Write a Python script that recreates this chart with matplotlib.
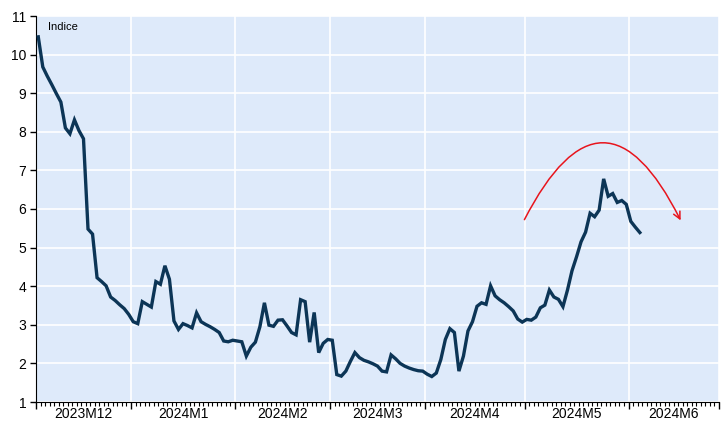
import numpy as np
import pandas as pd
import matplotlib
matplotlib.use('Agg')
import matplotlib.pyplot as plt
from matplotlib.patches import FancyArrowPatch

# daily index values (business days), one list per month
dec = [10.46, 9.68, 9.44, 9.22, 8.99, 8.77, 8.10, 7.95, 8.31, 8.03, 7.82,
       5.48, 5.35, 4.22, 4.12, 4.01, 3.72, 3.63, 3.52, 3.42, 3.27]
jan = [3.08, 3.03, 3.60, 3.53, 3.46, 4.12, 4.05, 4.53, 4.18, 3.10, 2.88,
       3.03, 2.98, 2.92, 3.31, 3.08, 3.01, 2.95, 2.88, 2.80, 2.58, 2.56, 2.60]
feb = [2.58, 2.56, 2.19, 2.42, 2.55, 2.95, 3.57, 2.99, 2.96, 3.12, 3.13,
       2.97, 2.80, 2.74, 3.65, 3.60, 2.55, 3.32, 2.28, 2.52, 2.62]
mar = [2.60, 1.71, 1.67, 1.80, 2.05, 2.28, 2.15, 2.08, 2.04, 1.99, 1.93,
       1.80, 1.78, 2.22, 2.12, 2.00, 1.93, 1.88, 1.84, 1.81, 1.80]
apr = [1.72, 1.66, 1.75, 2.10, 2.62, 2.90, 2.80, 1.80, 2.19, 2.84, 3.08,
       3.48, 3.57, 3.53, 4.01, 3.75, 3.65, 3.57, 3.47, 3.36, 3.15, 3.07]
may = [3.14, 3.12, 3.20, 3.44, 3.51, 3.90, 3.72, 3.66, 3.47, 3.90, 4.40,
       4.76, 5.15, 5.40, 5.89, 5.80, 5.97, 6.78, 6.33, 6.40, 6.17, 6.22, 6.12]
jun = [5.68, 5.53, 5.39]

values = dec + jan + feb + mar + apr + may + jun

# axis covers every business day from Dec 2023 to Jun 2024
days = pd.bdate_range('2023-12-01', '2024-06-28')

# red trend arrow (start / end, in business-day index and value)
arrow_start = (107.7, 5.66)
arrow_end = (142.8, 5.64)

plt.rcParams['font.family'] = ['Liberation Sans', 'DejaVu Sans']

fig = plt.figure(figsize=(7.22, 4.25), dpi=100)
ax = fig.add_axes([36 / 722, 23 / 425, 683 / 722, 386 / 425])
ax.set_facecolor('#deeafa')

x = np.arange(len(values)) + 0.5
ax.plot(x, values, color='#0c3556', linewidth=2.4, solid_joinstyle='miter', zorder=3)

# month boundaries and labels
month_id = days.year * 100 + days.month
starts = [0] + [i for i in range(1, len(days)) if month_id[i] != month_id[i - 1]]
bounds = starts + [len(days)]
labels = [f'{days[s].year}M{days[s].month}' for s in starts]

ax.set_xlim(0, len(days))
ax.set_ylim(1, 11)
ax.set_xticks(bounds)
ax.set_xticklabels([])
ax.set_xticks(np.arange(len(days) + 1), minor=True)
ax.set_yticks(range(1, 12))
ax.tick_params(axis='x', which='major', length=5, width=1, direction='out')
ax.tick_params(axis='x', which='minor', length=3, width=0.8, direction='out')
ax.tick_params(axis='y', length=4, width=1, labelsize=10, pad=3)

for i in range(len(starts)):
    mid = (bounds[i] + bounds[i + 1]) / 2
    ax.text(mid, -0.032, labels[i], transform=ax.get_xaxis_transform(),
            ha='center', va='center', fontsize=10)

ax.grid(True, which='major', color='white', linewidth=1.2)
ax.set_axisbelow(True)

ax.spines['top'].set_visible(False)
ax.spines['right'].set_visible(False)

ax.text(0.018, 0.972, 'Indice', transform=ax.transAxes, fontsize=8, va='center')

arc = FancyArrowPatch(arrow_start, arrow_end, connectionstyle='arc3,rad=-1.0',
                      arrowstyle='->,head_length=5,head_width=2.5',
                      color='#e8141c', linewidth=1.1, zorder=4)
ax.add_patch(arc)

plt.savefig('out.png', dpi=100)
